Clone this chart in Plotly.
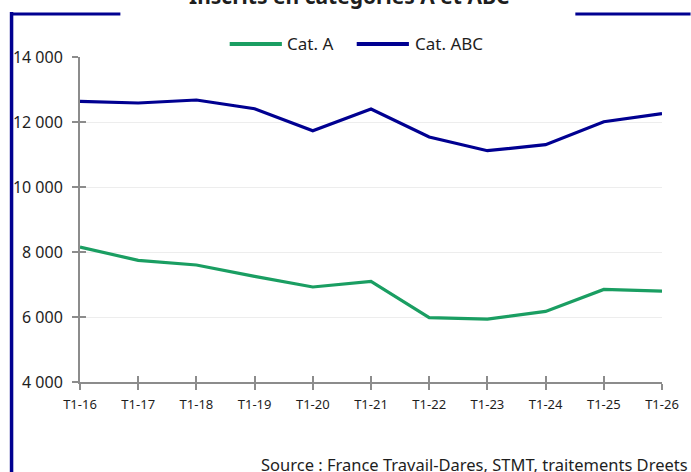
import plotly.graph_objects as go

periods = ["T1-16", "T1-17", "T1-18", "T1-19", "T1-20", "T1-21",
           "T1-22", "T1-23", "T1-24", "T1-25", "T1-26"]
cat_a = [8154, 7742, 7600, 7249, 6923, 7095, 5978, 5935, 6172, 6849, 6797]
cat_abc = [12634, 12585, 12677, 12409, 11732, 12400, 11538, 11117, 11302, 12009, 12255]
y_ticks = [4000, 6000, 8000, 10000, 12000, 14000]
series_names = ["Cat. A", "Cat. ABC"]
series_colors = ["#1a9e62", "#000091"]

W, H = 691, 472
L, R, T, B = 80, 20, 57, 90
PW, PH = W - L - R, H - T - B


def px(x):
    return (x - L) / PW


def py(y):
    return (H - B - y) / PH


idx = list(range(len(periods)))
fig = go.Figure()
for name, vals, col in zip(series_names, [cat_a, cat_abc], series_colors):
    fig.add_trace(go.Scatter(x=idx, y=vals, name=name, mode="lines",
                             line=dict(color=col, width=3.2), showlegend=False))
# helper trace for inside ticks overlay
fig.add_trace(go.Scatter(x=[None], y=[None], xaxis="x2", yaxis="y2",
                         showlegend=False, hoverinfo="skip"))

axis_col = "#8c8c8c"
fig.update_layout(
    width=W, height=H,
    margin=dict(l=L, r=R, t=T, b=B),
    paper_bgcolor="white", plot_bgcolor="white",
    separators=", ",
    font=dict(family="Noto Sans", color="#1e1e1e"),
    xaxis=dict(range=[0, len(periods) - 1], tickmode="array", tickvals=idx,
               ticktext=periods, showgrid=False, zeroline=False,
               showline=True, linecolor=axis_col, linewidth=2,
               ticks="outside", ticklen=6, tickwidth=2, tickcolor=axis_col,
               tickfont=dict(size=13, color="#1e1e1e"), ticklabelstandoff=3),
    yaxis=dict(range=[4000, 14000], tickmode="array", tickvals=y_ticks,
               tickformat=",", showgrid=True, gridcolor="#ededed", gridwidth=1,
               zeroline=False, showline=True, linecolor=axis_col, linewidth=2,
               ticks="outside", ticklen=6, tickwidth=2, tickcolor=axis_col,
               tickfont=dict(size=16, color="#1e1e1e"), ticklabelstandoff=6),
    xaxis2=dict(overlaying="x", anchor="y2", side="bottom",
                range=[0, len(periods) - 1], tickmode="array", tickvals=idx,
                showticklabels=False, showgrid=False, zeroline=False,
                showline=False, ticks="inside", ticklen=6, tickwidth=2,
                tickcolor=axis_col),
    yaxis2=dict(overlaying="y", anchor="x2", side="left",
                range=[4000, 14000], tickmode="array", tickvals=y_ticks,
                showticklabels=False, showgrid=False, zeroline=False,
                showline=False, ticks="inside", ticklen=6, tickwidth=2,
                tickcolor=axis_col),
    showlegend=False,
)

# legend drawn as line samples + text
legend_pos = [(232, 285, 288), (361, 414, 418)]
for (x0, x1, xt), name, col in zip(legend_pos, series_names, series_colors):
    fig.add_shape(type="line", xref="paper", yref="paper",
                  x0=px(x0), x1=px(x1), y0=py(44), y1=py(44),
                  line=dict(color=col, width=4))
    fig.add_annotation(text=name, xref="paper", yref="paper",
                       x=px(xt), y=py(44), xanchor="left", yanchor="middle",
                       showarrow=False, font=dict(size=17, color="#1e1e1e"))

frame_col = "#000091"
fig.add_shape(type="line", xref="paper", yref="paper",
              x0=px(10.5), x1=px(10.5), y0=py(12), y1=py(480),
              line=dict(color=frame_col, width=3.5))
fig.add_shape(type="line", xref="paper", yref="paper",
              x0=px(9), x1=px(121), y0=py(14), y1=py(14),
              line=dict(color=frame_col, width=3))
fig.add_shape(type="line", xref="paper", yref="paper",
              x0=px(583), x1=px(700), y0=py(14), y1=py(14),
              line=dict(color=frame_col, width=3))

fig.add_annotation(text="<b>Inscrits en catégories A et ABC</b>",
                   xref="paper", yref="paper", x=px(353), y=py(-4),
                   xanchor="center", yanchor="middle", showarrow=False,
                   font=dict(size=21, color="#1e1e1e"))
fig.add_annotation(text="Source : France Travail-Dares, STMT, traitements Dreets",
                   xref="paper", yref="paper", x=px(262), y=py(464),
                   xanchor="left", yanchor="middle", showarrow=False,
                   font=dict(size=16.5, color="#1e1e1e"))

fig.write_html("out.html",
               config={"displayModeBar": False},
               post_script="document.body.style.margin='0';"
                           "document.body.style.overflow='hidden';")
